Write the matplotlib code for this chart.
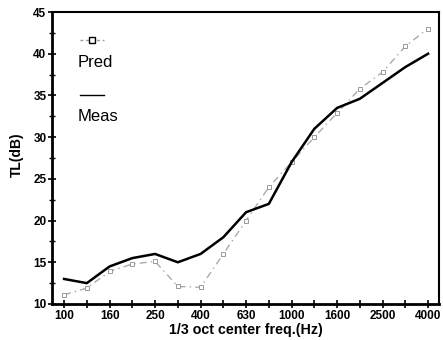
import numpy as np
from matplotlib import pyplot as plt
from matplotlib.lines import Line2D

plt.rcParams['font.family'] = ['Liberation Sans', 'DejaVu Sans']

freqs = ["100", "125", "160", "200", "250", "315", "400", "500", "630",
         "800", "1000", "1250", "1600", "2000", "2500", "3150", "4000"]
meas = [13.0, 12.5, 14.5, 15.5, 16.0, 15.0, 16.0, 18.0, 21.0,
        22.0, 27.0, 31.0, 33.5, 34.6, 36.5, 38.4, 40.0]
pred = [11.1, 11.9, 13.9, 14.8, 15.1, 12.1, 12.0, 16.0, 20.0,
        24.0, 27.0, 30.0, 32.9, 35.8, 37.8, 40.9, 43.0]

x = np.arange(len(freqs))

fig = plt.figure(figsize=(4.43, 3.40), dpi=100)
ax = fig.add_axes([0.1174, 0.1059, 0.8736, 0.8588])

ax.plot(x, pred, color="#aaaaaa", linestyle=(0, (5, 3, 1, 3)), linewidth=1,
        marker="s", markersize=3, markerfacecolor="white", markeredgecolor="#999999",
        markeredgewidth=0.7)
ax.plot(x, meas, color="black", linewidth=1.8)

ax.set_xlim(-0.53, 16.48)
ax.set_ylim(10, 45)
ax.set_xticks(x)
ax.set_xticklabels([f if i % 2 == 0 else "" for i, f in enumerate(freqs)])
ax.set_yticks(np.arange(10, 46, 5))
ax.set_yticks(np.arange(10, 45, 2.5), minor=True)
ax.tick_params(axis="both", which="major", direction="inout", length=6, width=1.2,
               labelsize=8.5, pad=1)
ax.tick_params(axis="y", which="minor", direction="inout", length=4, width=1)
for lab in ax.get_xticklabels() + ax.get_yticklabels():
    lab.set_fontweight("bold")

for s in ax.spines.values():
    s.set_linewidth(1.5)
ax.spines["left"].set_linewidth(2)
ax.spines["bottom"].set_linewidth(2)

ax.set_xlabel("1/3 oct center freq.(Hz)", fontsize=10.3, fontweight="bold", labelpad=1)
ax.set_ylabel("TL(dB)", fontsize=10, fontweight="bold")
ax.yaxis.set_label_coords(-0.072, 0.51)

# legend: sample above label
ax.add_line(Line2D([0.072, 0.135], [0.903, 0.903], transform=ax.transAxes,
                   color="#999999", linestyle=(0, (2, 2)), linewidth=1))
ax.add_line(Line2D([0.104], [0.903], transform=ax.transAxes, marker="s", markersize=4,
                   markerfacecolor="white", markeredgecolor="black", markeredgewidth=1))
ax.text(0.067, 0.81, "Pred", transform=ax.transAxes, fontsize=12)
ax.add_line(Line2D([0.072, 0.135], [0.715, 0.715], transform=ax.transAxes,
                   color="black", linewidth=1))
ax.text(0.067, 0.625, "Meas", transform=ax.transAxes, fontsize=12)

fig.savefig("out.png", dpi=100)
